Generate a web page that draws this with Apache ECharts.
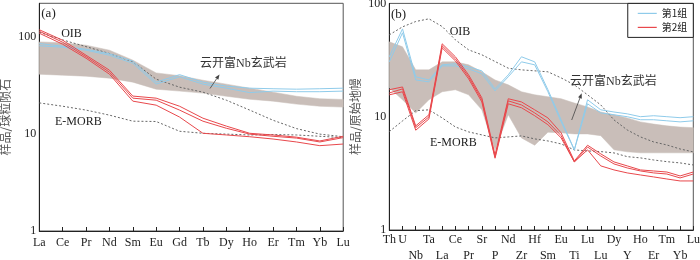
<!DOCTYPE html>
<html><head><meta charset="utf-8">
<script src="https://cdn.jsdelivr.net/npm/echarts@6/dist/echarts.min.js"></script>
<style>html,body{margin:0;padding:0;background:#fff}#c{width:700px;height:260px}</style>
</head><body><div id="c"></div>
<script>
// ---------- Panel (a): chondrite-normalised REE ----------
const catsA = ['La','Ce','Pr','Nd','Sm','Eu','Gd','Tb','Dy','Ho','Er','Tm','Yb','Lu'];
const bandA_low  = [41.5, 40.6, 39.6, 37.8, 34.4, 29.1, 27.8, 26.5, 24.6, 22.9, 21.9, 20.4, 19.4, 19.0];
const bandA_high = [89.5, 87.7, 82.7, 73.5, 58.0, 42.8, 40.1, 36.0, 32.8, 29.8, 27.1, 24.6, 23.2, 22.8];
const oibA   = [112.6, 93.8, 80.0, 67.9, 55.9, 36.9, 30.5, 27.1, 22.4, 17.7, 13.9, 11.4, 10.0, 9.4];
const emorbA = [21.0, 19.4, 17.7, 15.7, 13.6, 13.5, 10.7, 10.2, 10.0, 9.8, 9.9, 9.8, 9.5, 9.2];
const blueA1 = [86.1, 80.8, 75.2, 67.6, 56.6, 34.4, 41.1, 34.4, 31.3, 29.8, 29.4, 29.1, 29.4, 29.8];
const blueA2 = [81.7, 78.9, 73.5, 65.2, 53.9, 32.8, 39.1, 32.8, 29.8, 26.8, 27.8, 27.4, 27.4, 27.8];
const redA1  = [119.5, 93.1, 65.2, 45.7, 24.7, 23.5, 19.4, 14.6, 12.1, 10.2, 9.8, 9.3, 8.5, 9.5];
const redA2  = [115.3, 88.8, 63.0, 43.6, 23.5, 22.4, 17.7, 13.6, 11.5, 10.0, 9.5, 9.1, 8.3, 9.2];
const redA3  = [110.0, 84.7, 60.7, 41.6, 21.9, 19.9, 15.0, 10.2, 9.8, 9.4, 8.9, 8.3, 7.6, 7.9];

// ---------- Panel (b): primitive-mantle-normalised spider ----------
const catsB = ['Th','U','Nb','Ta','La','Ce','Pr','Sr','P','Nd','Zr','Hf','Sm','Eu','Ti','Lu','Lu','Dy','Y','Ho','Er','Tm','Yb','Lu'];
const bandB_high = [45.8, 41.4, 25.9, 25.9, 30.5, 30.5, 28.7, 24.9, 21.1, 19.1, 16.6, 15.6, 15.0, 14.4, 13.2, 12.2, 11.0, 10.4, 9.76, 9.0, 8.6, 8.3, 8.1, 8.0];
const bandB_low  = [18.0, 14.1, 10.8, 14.1, 16.6, 17.3, 15.6, 11.5, 5.1, 10.4, 6.5, 5.6, 7.3, 7.2, 7.05, 7.05, 6.8, 5.1, 4.9, 4.8, 4.8, 4.8, 4.8, 4.8];
const oibB   = [52.8, 62.1, 69.2, 73.1, 62.5, 47.7, 38.9, 35.2, 30.7, 26.8, 25.9, 25.4, 24.9, 22.0, 19.1, 15.6, 12.7, 9.37, 7.64, 6.63, 5.99, 5.63, 5.19, 4.89];
const emorbB = [7.39, 9.18, 11.3, 11.5, 9.76, 8.12, 7.34, 6.91, 6.50, 6.63, 6.77, 6.37, 6.11, 5.75, 5.09, 4.99, 4.92, 4.79, 4.44, 4.33, 4.15, 4.01, 3.91, 3.75];
const blueB1 = [33.8, 59.6, 22.5, 21.1, 28.7, 29.3, 27.5, 25.4, 17.6, 23.4, 33.8, 30.5, 17.3, 9.4, 5.1, 14.1, 11.5, 11.0, 10.6, 10.0, 10.2, 10.0, 9.8, 10.0];
const blueB2 = [30.5, 55.0, 21.1, 20.3, 28.1, 28.1, 26.4, 23.9, 16.9, 22.5, 30.5, 28.7, 16.6, 9.0, 5.1, 13.0, 10.8, 10.4, 10.0, 9.4, 9.4, 9.2, 9.0, 9.2];
const redB1  = [17.3, 18.3, 8.3, 10.4, 44.0, 33.8, 23.4, 14.7, 4.6, 14.4, 13.5, 11.5, 9.76, 7.2, 4.07, 5.6, 4.7, 3.99, 3.68, 3.39, 3.32, 3.25, 3.0, 3.25];
const redB2  = [16.2, 17.6, 8.0, 9.96, 42.2, 32.4, 22.5, 14.1, 4.4, 13.8, 12.7, 10.8, 9.0, 6.8, 3.99, 5.4, 4.5, 3.83, 3.53, 3.32, 3.19, 3.12, 2.88, 3.12];
const redB3  = [15.6, 16.6, 7.6, 9.56, 40.5, 31.1, 21.6, 13.5, 4.3, 13.0, 12.0, 10.2, 8.5, 6.5, 3.99, 5.1, 3.68, 3.39, 3.19, 3.06, 2.94, 2.82, 2.71, 2.71];

const yTicks = [1, 10, 100];
const groupNames = ['第1组', '第2组'];

const SERIF = "'Liberation Serif','Times New Roman','Noto Sans CJK SC',serif";
const CJK = "'Noto Sans CJK SC',sans-serif";
const BLUE = '#8fcbea', RED = '#e8484c', BAND = '#c9beb9', DOT = '#666', INK = '#222';

const chart = echarts.init(document.getElementById('c'), null, {renderer: 'canvas'});

function bandSeries(ai, low, high) {
  return {
    type: 'custom', xAxisIndex: ai, yAxisIndex: ai, silent: true, z: 1, animation: false,
    data: low.map((v, i) => [i, v, high[i]]),
    encode: {x: 0, y: [1, 2]},
    renderItem: function (params, api) {
      if (params.dataIndex !== 0) return null;
      const pts = [];
      for (let i = 0; i < high.length; i++) pts.push(api.coord([i, high[i]]));
      for (let i = low.length - 1; i >= 0; i--) pts.push(api.coord([i, low[i]]));
      return {type: 'polygon', shape: {points: pts}, style: {fill: BAND, stroke: BAND, lineWidth: 0.5}};
    }
  };
}
function lineSeries(name, ai, data, color, dashed) {
  return {
    type: 'line', name: name, xAxisIndex: ai, yAxisIndex: ai, data: data, symbol: 'none',
    silent: true, animation: false, z: dashed ? 2 : 3,
    lineStyle: {color: color, width: 1, type: dashed ? [2, 2] : 'solid'},
    itemStyle: {color: color}
  };
}
function xAxis(ai, cats, twoRow) {
  const lab = {interval: 0, margin: 6, fontFamily: SERIF, fontSize: 12, color: INK};
  if (twoRow) {
    lab.margin = 4;
    lab.formatter = function (v, i) { return (i >= 2 && i % 2 === 0) ? '{l|' + v + '}' : '{u|' + v + '}'; };
    lab.rich = {
      u: {fontFamily: SERIF, fontSize: 12, color: INK, padding: [0, 0, 0, 0]},
      l: {fontFamily: SERIF, fontSize: 12, color: INK, padding: [16, 0, 0, 0]}
    };
  }
  return {
    type: 'category', gridIndex: ai, data: cats, boundaryGap: false,
    axisLine: {lineStyle: {color: INK, width: 1}},
    axisTick: {inside: true, length: 4, interval: 0, lineStyle: {color: INK}},
    axisLabel: lab,
    splitLine: {show: false}
  };
}
function yAxis(ai, max, name) {
  return {
    type: 'log', logBase: 10, gridIndex: ai, min: 1, max: max,
    axisLine: {show: true, lineStyle: {color: INK, width: 1}},
    axisTick: {inside: true, length: 4, lineStyle: {color: INK}},
    minorTick: {show: false},
    axisLabel: {
      margin: 3, fontFamily: SERIF, fontSize: 12, color: INK,
      formatter: function (v) {
        for (const t of yTicks) if (Math.abs(v - t) / t < 1e-6) return String(t);
        return '';
      }
    },
    splitLine: {show: false},
    name: name, nameLocation: 'middle', nameGap: 28, nameRotate: 90,
    nameTextStyle: {fontFamily: CJK, fontSize: 12, color: '#555'}
  };
}
function arrow(x1, y1, x2, y2) {
  const dx = x2 - x1, dy = y2 - y1, L = Math.hypot(dx, dy), ux = dx / L, uy = dy / L, hl = 5, hw = 2;
  const bx = x2 - ux * hl, by = y2 - uy * hl;
  return [
    {type: 'line', z: 100, shape: {x1: x1, y1: y1, x2: bx, y2: by}, style: {stroke: '#444', lineWidth: 0.8}},
    {type: 'polygon', z: 100, shape: {points: [[x2, y2], [bx - uy * hw, by + ux * hw], [bx + uy * hw, by - ux * hw]]}, style: {fill: '#444'}}
  ];
}
function label(text, x, y, font, color) {
  return {type: 'text', z: 100, x: x, y: y,
    style: {text: text, font: font || ('12px ' + SERIF), fill: color || INK, align: 'center', verticalAlign: 'middle'}};
}

const option = {
  animation: false,
  grid: [
    {left: 39.3, top: 3.3, right: 356.8, bottom: 29, show: true, borderColor: '#555', borderWidth: 1, containLabel: false, outerBoundsMode: 'none'},
    {left: 389.3, top: 3.4, right: 6.7, bottom: 30, show: true, borderColor: '#555', borderWidth: 1, containLabel: false, outerBoundsMode: 'none'}
  ],
  xAxis: [xAxis(0, catsA, false), xAxis(1, catsB, true)],
  yAxis: [yAxis(0, 224, '样品/球粒陨石'), yAxis(1, 100, '样品/原始地幔')],
  legend: {
    data: groupNames, orient: 'vertical', right: 6.7, top: 3.4,
    icon: 'rect', itemWidth: 19, itemHeight: 1.2, itemGap: 2,
    padding: [4, 6, 4, 10], borderColor: INK, borderWidth: 1, backgroundColor: '#fff',
    textStyle: {fontFamily: CJK, fontSize: 10, color: INK, lineHeight: 12},
    selectedMode: false
  },
  series: [
    bandSeries(0, bandA_low, bandA_high),
    lineSeries('OIB', 0, oibA, DOT, true),
    lineSeries('E-MORB', 0, emorbA, DOT, true),
    lineSeries(groupNames[0], 0, blueA1, BLUE),
    lineSeries(groupNames[0], 0, blueA2, BLUE),
    lineSeries(groupNames[1], 0, redA1, RED),
    lineSeries(groupNames[1], 0, redA2, RED),
    lineSeries(groupNames[1], 0, redA3, RED),
    bandSeries(1, bandB_low, bandB_high),
    lineSeries('OIB', 1, oibB, DOT, true),
    lineSeries('E-MORB', 1, emorbB, DOT, true),
    lineSeries(groupNames[0], 1, blueB1, BLUE),
    lineSeries(groupNames[0], 1, blueB2, BLUE),
    lineSeries(groupNames[1], 1, redB1, RED),
    lineSeries(groupNames[1], 1, redB2, RED),
    lineSeries(groupNames[1], 1, redB3, RED)
  ],
  graphic: [
    label('(a)', 48.5, 13.5, '13px ' + SERIF),
    label('OIB', 71.5, 33.5),
    label('E-MORB', 78.3, 122),
    label('云开富Nb玄武岩', 243.3, 64.3, null, '#333'),
    ...arrow(210, 88.5, 219.5, 74.5),
    label('(b)', 398.5, 15, '13px ' + SERIF),
    label('OIB', 460, 31.7),
    label('E-MORB', 453.3, 143.3),
    label('云开富Nb玄武岩', 613.3, 81.7, null, '#333'),
    ...arrow(571.7, 120, 581.7, 93.3)
  ]
};
chart.setOption(option);
</script>
</body></html>
